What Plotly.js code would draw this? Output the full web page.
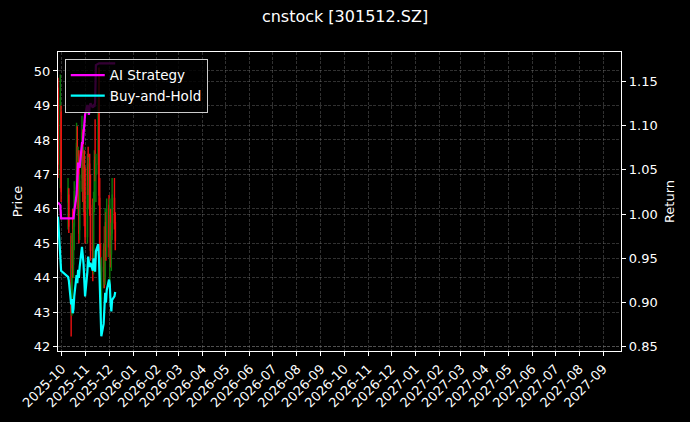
<!DOCTYPE html>
<html>
<head>
<meta charset="utf-8">
<script src="https://cdn.plot.ly/plotly-3.0.1.min.js"></script>
<style>
  html, body { margin: 0; padding: 0; background: #000; }
  #chart { width: 690px; height: 422px; }
</style>
</head>
<body>
<div id="chart"></div>
<script>
(function () {
  "use strict";

  var dates = [
    "2025-09-26", "2025-09-29", "2025-09-30", "2025-10-09", "2025-10-10",
    "2025-10-13", "2025-10-14", "2025-10-15", "2025-10-16", "2025-10-17",
    "2025-10-20", "2025-10-21", "2025-10-22", "2025-10-23", "2025-10-24",
    "2025-10-27", "2025-10-28", "2025-10-29", "2025-10-30", "2025-10-31",
    "2025-11-03", "2025-11-04", "2025-11-05", "2025-11-06", "2025-11-07",
    "2025-11-10", "2025-11-11", "2025-11-12", "2025-11-13", "2025-11-14",
    "2025-11-17", "2025-11-18", "2025-11-19", "2025-11-20", "2025-11-21",
    "2025-11-24", "2025-11-25", "2025-11-26", "2025-11-27", "2025-11-28",
    "2025-12-01", "2025-12-02", "2025-12-03", "2025-12-04", "2025-12-05",
    "2025-12-08", "2025-12-09"
  ];

  var open = [
    49.5, 47.0, 48.8, 46.2, 46.4, 45.2, 43.2, 44.9, 44.4, 45.5,
    46.6, 47.8, 46.5, 47.4, 45.4, 46.9, 48.1, 46.5, 47.5, 45.9,
    45.2, 47.2, 46.6, 47.3, 46.1, 44.9, 44.3, 46.2, 47.5, 47.0,
    47.3, 49.2, 46.3, 44.3, 43.4, 44.2, 44.9, 44.0, 45.6, 44.9,
    46.1, 45.0, 45.8, 44.7, 45.3, 46.3, 45.6
  ];
  var high = [
    49.8, 49.9, 49.0, 46.9, 46.6, 45.3, 45.3, 46.0, 45.6, 46.8,
    48.5, 48.4, 47.8, 47.7, 47.0, 48.7, 48.3, 47.8, 47.7, 47.2,
    47.6, 47.8, 47.5, 47.6, 47.0, 46.3, 46.5, 47.7, 48.6, 47.6,
    49.3, 50.1, 46.9, 45.0, 44.6, 45.0, 45.5, 46.0, 45.9, 46.3,
    46.4, 46.3, 46.0, 45.6, 46.9, 46.9, 45.9
  ];
  var low = [
    46.9, 46.6, 46.2, 45.4, 45.3, 42.3, 42.9, 44.0, 44.0, 44.8,
    46.2, 46.0, 45.8, 45.0, 45.1, 46.5, 46.2, 45.9, 45.5, 45.0,
    45.0, 46.4, 46.0, 45.8, 44.5, 43.9, 44.1, 45.9, 46.8, 46.2,
    47.0, 46.1, 43.9, 43.1, 42.9, 43.7, 43.7, 43.8, 44.5, 44.6,
    44.6, 43.6, 44.3, 44.2, 45.1, 45.4, 44.8
  ];
  var close = [
    47.3, 49.2, 46.5, 46.6, 45.5, 43.0, 45.0, 44.3, 45.4, 46.5,
    47.9, 46.4, 47.5, 45.3, 46.8, 48.2, 46.6, 47.6, 45.8, 45.2,
    47.3, 46.7, 47.2, 46.0, 44.8, 44.2, 46.2, 47.4, 47.0, 47.3,
    49.0, 46.4, 44.2, 43.3, 44.3, 44.8, 43.9, 45.6, 44.8, 46.0,
    44.9, 45.9, 44.6, 45.2, 46.4, 45.6, 45.1
  ];

  var aiStrategy = [
    1.013, 1.010, 0.995, 0.995, 0.995, 0.995, 0.995, 0.995, 0.995, 1.003,
    1.022, 1.040, 1.058, 1.055, 1.052, 1.080, 1.080, 1.090, 1.098, 1.112,
    1.123, 1.118, 1.112, 1.122, 1.125, 1.120, 1.122, 1.121, 1.126, 1.168,
    1.170, 1.170, 1.170, 1.170, 1.170, 1.170, 1.170, 1.170, 1.170, 1.170,
    1.170, 1.170, 1.170, 1.170, 1.170, 1.170, 1.170
  ];
  var buyAndHold = [
    0.997, 0.955, 0.936, 0.929, 0.925, 0.898, 0.904, 0.888, 0.893, 0.907,
    0.931, 0.922, 0.937, 0.928, 0.940, 0.963, 0.955, 0.944, 0.925, 0.907,
    0.935, 0.952, 0.945, 0.940, 0.945, 0.936, 0.950, 0.942, 0.935, 0.958,
    0.966, 0.950, 0.920, 0.888, 0.862, 0.876, 0.898, 0.911, 0.900, 0.914,
    0.926, 0.920, 0.900, 0.890, 0.903, 0.907, 0.912
  ];

  var priceTicks = [42, 43, 44, 45, 46, 47, 48, 49, 50];
  var returnTicks = [0.85, 0.90, 0.95, 1.00, 1.05, 1.10, 1.15];

  var font = { family: "DejaVu Sans, sans-serif", color: "#ffffff", size: 13 };
  var grid = "rgba(140,140,140,0.5)";

  var traces = [{
    type: "candlestick",
    x: dates, open: open, high: high, low: low, close: close,
    increasing: { line: { color: "#0a7a0a", width: 1.4 }, fillcolor: "#0a7a0a" },
    decreasing: { line: { color: "#ee1111", width: 1.4 }, fillcolor: "#ee1111" },
    whiskerwidth: 0,
    showlegend: false,
    hoverinfo: "skip"
  }, {
    type: "scatter", mode: "lines",
    name: "AI Strategy",
    x: dates, y: aiStrategy, yaxis: "y2",
    line: { color: "#ff00ff", width: 2.2 }
  }, {
    type: "scatter", mode: "lines",
    name: "Buy-and-Hold",
    x: dates, y: buyAndHold, yaxis: "y2",
    line: { color: "#00ffff", width: 2.2 }
  }];

  var layout = {
    width: 690, height: 422,
    font: font,
    paper_bgcolor: "#000000",
    plot_bgcolor: "#000000",
    margin: { l: 57.5, r: 69.3, t: 52, b: 71 },
    title: { text: "cnstock [301512.SZ]", x: 0.5, xanchor: "center", y: 0.96, yanchor: "middle", font: { size: 16, color: "#ffffff" } },
    showlegend: true,
    legend: {
      x: 0.012, y: 0.977, xanchor: "left", yanchor: "top",
      bgcolor: "rgba(0,0,0,0.8)", bordercolor: "#cccccc", borderwidth: 1,
      font: { size: 13.5, color: "#ffffff" },
      itemwidth: 34,
      tracegroupgap: 2
    },
    xaxis: {
      type: "date",
      range: ["2025-09-26", "2027-09-24"],
      tick0: "2025-10-01", dtick: "M1", tickformat: "%Y-%m",
      tickangle: -45,
      ticks: "outside", ticklen: 4, tickcolor: "#ffffff",
      showline: true, linecolor: "#ffffff", linewidth: 1.2, mirror: true,
      showgrid: true, gridcolor: grid, griddash: "3px,1.5px", gridwidth: 0.7,
      zeroline: false,
      rangeslider: { visible: false },
      fixedrange: true
    },
    yaxis: {
      range: [41.88, 50.55],
      tickvals: priceTicks,
      ticks: "outside", ticklen: 4, tickcolor: "#ffffff",
      showline: true, linecolor: "#ffffff", linewidth: 1.2,
      showgrid: true, gridcolor: grid, griddash: "3px,1.5px", gridwidth: 0.7,
      zeroline: false,
      title: { text: "Price", standoff: 8, font: { size: 13 } },
      fixedrange: true
    },
    yaxis2: {
      overlaying: "y", side: "right",
      range: [0.8454, 1.1828],
      tickvals: returnTicks, tickformat: ".2f",
      ticks: "outside", ticklen: 4, tickcolor: "#ffffff",
      showline: true, linecolor: "#ffffff", linewidth: 1.2,
      showgrid: true, gridcolor: grid, griddash: "3px,1.5px", gridwidth: 0.7,
      zeroline: false,
      title: { text: "Return", standoff: 8, font: { size: 13 } },
      fixedrange: true
    }
  };

  Plotly.newPlot("chart", traces, layout, { displayModeBar: false, staticPlot: true });
}());
</script>
</body>
</html>
